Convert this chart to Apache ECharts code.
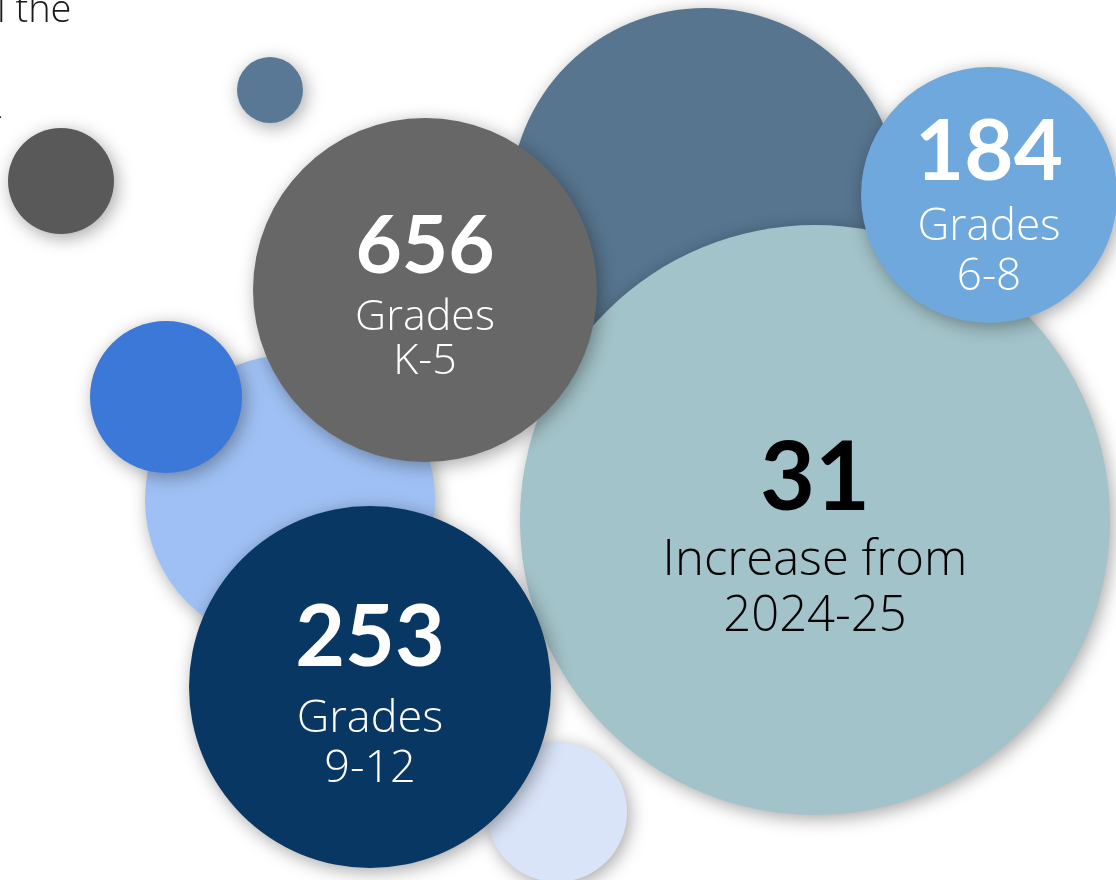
<!DOCTYPE html>
<html>
<head>
<meta charset="utf-8">
<script src="https://cdn.jsdelivr.net/npm/echarts@6/dist/echarts.min.js"></script>
<style>
html,body{margin:0;padding:0;background:#fff;}
#main{width:1116px;height:880px;}
</style>
</head>
<body>
<div id="main"></div>
<script>
// Bubbles listed from back to front
var bubbleNames = ['bgLightBlue','bgPale','smallSlate','smallGray','bigSlate','increase','grades68','gradesK5','smallBlue','grades912'];
var bubbleX = [290, 557, 270, 61, 705, 815, 989, 425, 166, 370];
var bubbleY = [500, 812, 90, 181, 203, 520, 195, 290, 397, 687];
var bubbleR = [145, 70, 33, 53, 195, 295, 128, 172, 76, 181];
var bubbleColors = ['#9fc0f4','#dae4f8','#587896','#595959','#57758f','#a2c3c9','#6fa8dc','#676767','#3c78d8','#083763'];

var labelValues = {increase: '31', grades68: '184', gradesK5: '656', grades912: '253'};
var labelLine1 = {increase: 'Increase from', grades68: 'Grades', gradesK5: 'Grades', grades912: 'Grades'};
var labelLine2 = {increase: '2024-25', grades68: '6-8', gradesK5: 'K-5', grades912: '9-12'};

var topText = 'l the';

var NUMFONT = 'Lato, "Open Sans", sans-serif';
var TXTFONT = '"Open Sans", Lato, sans-serif';

// label typography per bubble: [numSize, numLineH, txtSize, txtLineH, offsetY, color]
var labelStyle = {
  gradesK5:  [80, 96, 43, 44, 1.5, '#ffffff'],
  grades68:  [85, 100, 44, 50, 7.5, '#ffffff'],
  increase:  [95, 109, 49, 56, 15, '#000000'],
  grades912: [86, 111, 45, 50, 1.5, '#ffffff']
};

var data = bubbleNames.map(function (n, i) {
  var item = {
    name: n,
    value: [bubbleX[i], bubbleY[i]],
    symbolSize: bubbleR[i] * 2,
    itemStyle: { color: bubbleColors[i] }
  };
  if (labelValues[n]) {
    var s = labelStyle[n];
    item.label = {
      show: true,
      position: 'inside',
      offset: [0, s[4]],
      formatter: '{n|' + labelValues[n] + '}\n{t|' + labelLine1[n] + '}\n{t|' + labelLine2[n] + '}',
      rich: {
        n: { fontFamily: NUMFONT, fontWeight: 'bold', fontSize: s[0], color: s[5], lineHeight: s[1], align: 'center' },
        t: { fontFamily: TXTFONT, fontWeight: 300, fontSize: s[2], color: s[5], lineHeight: s[3], align: 'center' }
      }
    };
  }
  return item;
});

var chart = echarts.init(document.getElementById('main'), null, {renderer: 'canvas'});
chart.setOption({
  animation: false,
  backgroundColor: '#ffffff',
  grid: { left: 0, right: 0, top: 0, bottom: 0 },
  xAxis: { type: 'value', min: 0, max: 1116, show: false },
  yAxis: { type: 'value', min: 0, max: 880, inverse: true, show: false },
  graphic: [
    { type: 'text', x: -3, y: 11, z: 10,
      style: { text: topText, font: '300 38px ' + TXTFONT, fill: '#1a1a1a', verticalAlign: 'middle' } },
    { type: 'text', x: -2, y: 112, z: 10,
      style: { text: '.', font: '300 20px ' + TXTFONT, fill: '#1a1a1a', verticalAlign: 'middle' } }
  ],
  series: [{
    type: 'scatter',
    symbol: 'circle',
    silent: true,
    itemStyle: {
      opacity: 1,
      shadowBlur: 18,
      shadowColor: 'rgba(0,0,0,0.35)',
      shadowOffsetX: 3,
      shadowOffsetY: 4
    },
    emphasis: { disabled: true },
    data: data
  }]
});
</script>
</body>
</html>
